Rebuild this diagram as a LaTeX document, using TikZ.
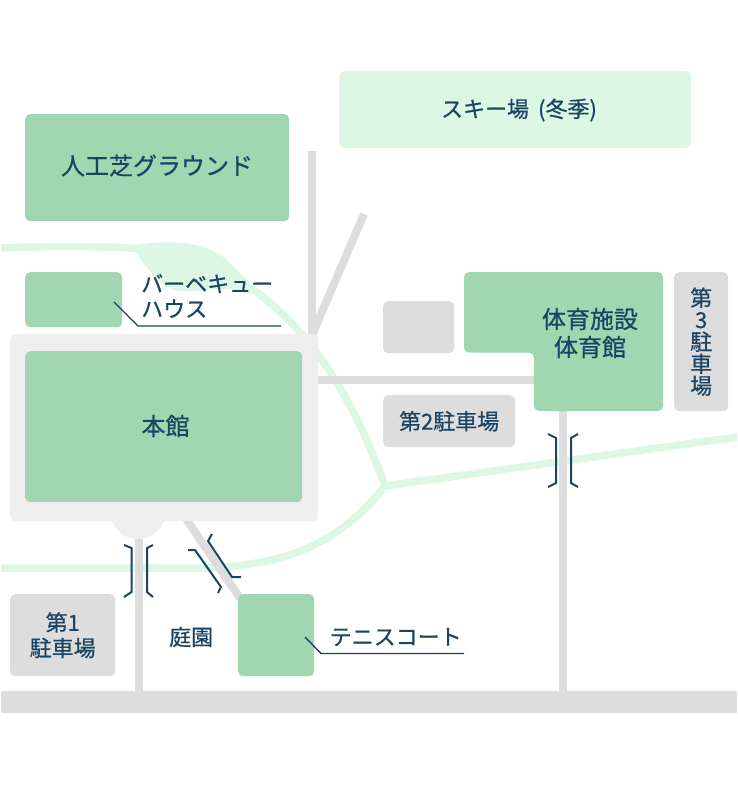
\documentclass[tikz,border=0pt]{standalone}
\usepackage{fontspec}
\setmainfont{Noto Sans CJK JP}[FakeBold=0.6]
\usetikzlibrary{positioning}
\definecolor{mapgreen}{HTML}{A0D7B1}
\definecolor{mappale}{HTML}{DCF7E3}
\definecolor{mapgray}{HTML}{DDDDDD}
\definecolor{mapplate}{HTML}{EEEEEE}
\definecolor{mapink}{HTML}{1B4463}
\tikzset{
  plot/.style={anchor=north west, inner sep=0pt, rounded corners=5pt, text=mapink, align=center,
    font=\fontsize{22}{22}\selectfont},
  building/.style={plot, fill=mapgreen},
  parking/.style={plot, fill=mapgray},
  label/.style={inner sep=0pt, text=mapink, align=left, font=\fontsize{22}{25}\selectfont},
  road/.style={draw=mapgray, line width=8pt},
  walk/.style={draw=mappale, line width=7.5pt},
  leader/.style={draw=mapink, line width=1.4pt},
  bridge/.style={draw=mapink, line width=2pt}
}
\begin{document}
\begin{tikzpicture}[x=1pt, y=-1pt]
\useasboundingbox (0,0) rectangle (737,801);
% walkways
\path [walk] (1,248) .. controls (50,246) and (100,246) .. (137,248.5);
\fill [mappale] (135,245) .. controls (165,240) and (205,240) .. (227,260)
  .. controls (238,270) and (246,280) .. (255,287) -- (250,295)
  .. controls (240,290) and (225,287) .. (205,290) .. controls (185,293) and (170,292) .. (160,282)
  .. controls (150,272) and (143,262) .. (135,252) -- cycle;
\coordinate (junction) at (385,486);
\path [walk] (240,281) .. controls (295,315) and (345,375) .. (junction);
\path [walk] (junction) -- (737,437);
\path [walk] (1,568) -- (200,568) .. controls (300,566) and (345,535) .. (junction);
% roads
\path [road] (312,151) -- (312,340);
\path [road] (364,214) -- (312,335);
\path [road] (310,380) -- (540,380);
\path [road] (563,405) -- (563,695);
\path [road] (139,530) -- (139,695);
\path [road] (186,519) -- (240,598);
% main building and its plate
\fill [mapplate] (138,511) circle (28);
\node [plot, fill=mapplate, minimum width=308pt, minimum height=187pt] (plate) at (10,334) {};
\node [building, minimum width=277pt, minimum height=151pt] (honkan) at (25,351) {};
\node [parking, rounded corners=0pt, minimum width=736pt, minimum height=22pt] (mainroad) at (1,691) {};
% buildings
\node [plot, fill=mappale, minimum width=352pt, minimum height=77pt] (ski) at (339,71) {};
\node [building, minimum width=264pt, minimum height=107pt] (turf) at (25,114) {};
\node [building, minimum width=97pt, minimum height=55pt] (bbq) at (25,272) {};
\node [building, minimum width=76pt, minimum height=82pt] (tennis) at (238,594) {};
\fill [mapgreen, rounded corners=5pt] (464,272) -- (663,272) -- (663,411) -- (534,411) -- (534,352.5) -- (464,352.5) -- cycle;
\node [label, align=center, font=\fontsize{24}{28}\selectfont] (gym) at (590,333) {体育施設\\体育館};
% parking
\node [parking, minimum width=71pt, minimum height=52pt] (lot) at (383,301) {};
\node [parking, minimum width=132pt, minimum height=52pt] (lot2) at (383,395) {第2駐車場};
\node [parking, minimum width=54pt, minimum height=139pt] (lot3) at (674,272) {第\\3\\駐\\車\\場};
\node [parking, minimum width=105pt, minimum height=82pt, font=\fontsize{22}{25.5}\selectfont] (lot1) at (10,594) {第1\\駐車場};
% labels
\node [label, font=\fontsize{24}{26}\selectfont] (turflabel) at (157,165.5) {人工芝グラウンド};
\node [label, font=\fontsize{24}{26}\selectfont] (honkanlabel) at (165.5,426) {本館};
\node [label] (skilabel) at (519,110) {スキー場\hspace{9pt}(冬季)};
\node [label, anchor=west] (garden) at (169,637) {庭園};
\node [label, anchor=west] (bbqlabel) at (141,296) {バーベキュー\\ハウス};
\node [label, anchor=west] (tennislabel) at (329.5,637) {テニスコート};
% leaders
\coordinate (bbqend) at (281,326);
\coordinate (tennisend) at (464,653.5);
\draw [leader] (114,302) -- (138,326) -- (bbqend);
\draw [leader] (305,637) -- (321,653.5) -- (tennisend);
% bridges
\draw [bridge] (124,545) -- (131.5,548) -- (131.5,592) -- (124,597);
\draw [bridge] (153,545) -- (147,548) -- (147,592) -- (153,597);
\draw [bridge] (548,434) -- (556,438) -- (556,483) -- (548,487);
\draw [bridge] (578,434) -- (571,438) -- (571,483) -- (578,487);
\draw [bridge] (212,534) -- (208,541) -- (232,577) -- (241,577);
\draw [bridge] (188,550) -- (195,550) -- (221,587) -- (218,593);
\end{tikzpicture}
\end{document}
